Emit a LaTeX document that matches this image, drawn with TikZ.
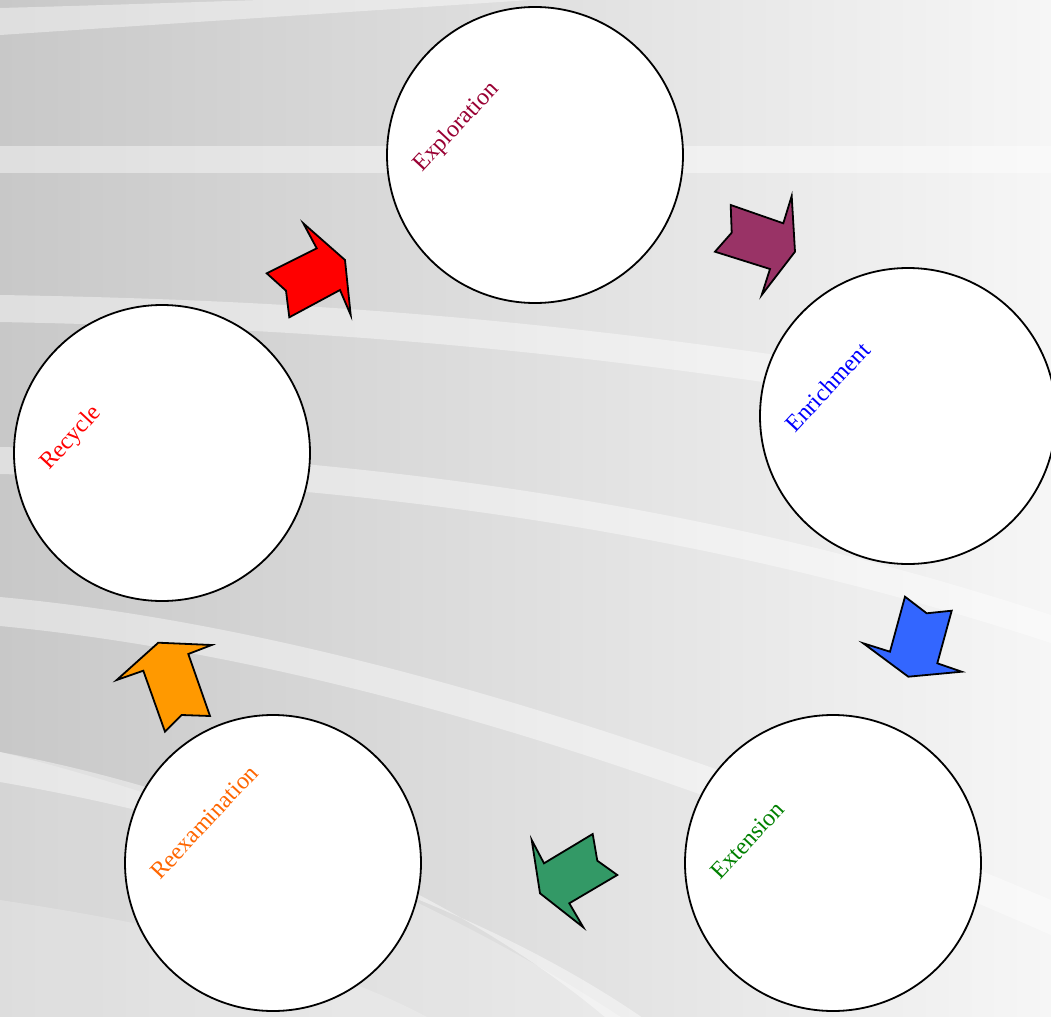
\documentclass[tikz,border=0pt]{standalone}
\usepackage{fontspec}
\setmainfont{Liberation Serif}
\usetikzlibrary{positioning}

\definecolor{bgleft}{HTML}{C8C8C8}
\definecolor{bgright}{HTML}{F6F6F6}
\definecolor{arrowred}{HTML}{FF0000}
\definecolor{arrowpurple}{HTML}{993366}
\definecolor{arrowblue}{HTML}{3366FF}
\definecolor{arrowgreen}{HTML}{339966}
\definecolor{arroworange}{HTML}{FF9900}
\definecolor{explotext}{HTML}{990033}
\definecolor{enrichtext}{HTML}{0000FF}
\definecolor{extentext}{HTML}{008000}
\definecolor{reexamtext}{HTML}{FF6600}
\definecolor{recyctext}{HTML}{FF0000}

\begin{document}
\begin{tikzpicture}[x=0.5pt,y=-0.5pt]

\tikzset{
    stage/.style={circle,draw,fill=white,line width=0.9pt,minimum size=148pt,inner sep=0pt},
    stagelabel/.style={rotate=47,anchor=base west,inner sep=0pt,font=\fontsize{12}{14}\selectfont},
    band/.style={fill=white,opacity=0.42},
    blockarrow/.style={draw,line width=0.9pt,line join=miter}
}
% variables
\def\labelx{-113}
\def\labely{18}

\useasboundingbox (0,0) rectangle (1051,1017);
\clip (0,0) rectangle (1051,1017);

% ----------- background ----------- %
\shade[left color=bgleft,right color=bgright] (0,0) rectangle (1051,1017);
\fill[white,opacity=0.25] (0,752) .. controls (200,800) and (450,900) .. (640,1030) -- (0,1030) -- cycle;
\fill[white,opacity=0.2] (0,900) .. controls (200,930) and (350,970) .. (450,1030) -- (0,1030) -- cycle;

% bands
\fill[band] (0,8) .. controls (150,4) and (250,0) .. (330,-2) -- (560,-2) .. controls (350,12) and (150,25) .. (0,35) -- cycle;
\fill[band] (0,146) rectangle (1051,173);
\fill[band] (0,295) .. controls (300,300) and (600,318) .. (1051,400)
    -- (1051,430) .. controls (600,346) and (300,328) .. (0,322) -- cycle;
\fill[band] (0,447) .. controls (350,455) and (700,500) .. (1051,615)
    -- (1051,643) .. controls (700,528) and (350,483) .. (0,474) -- cycle;
\fill[band] (0,597) .. controls (300,625) and (650,730) .. (1051,900)
    -- (1051,935) .. controls (650,758) and (300,655) .. (0,626) -- cycle;
\fill[band] (0,752) .. controls (200,790) and (450,880) .. (620,1030)
    -- (660,1030) .. controls (480,900) and (220,820) .. (0,782) -- cycle;

% ------------ MAIN DIAGRAM ---------%
% stages
\node[stage] (explo) at (535,155) {};
\node[stage] (enrich) at (908,416) {};
\node[stage] (exten) at (833,863) {};
\node[stage] (reexam) at (273,863) {};
\node[stage] (recyc) at (162,453) {};

% labels
\node[stagelabel,text=explotext] (explolbl) at ([shift={(\labelx,\labely)}]explo.center) {Exploration};
\node[stagelabel,text=enrichtext] (enrichlbl) at ([shift={(\labelx,\labely)}]enrich.center) {Enrichment};
\node[stagelabel,text=extentext] (extenlbl) at ([shift={(\labelx,\labely)}]exten.center) {Extension};
\node[stagelabel,text=reexamtext] (reexamlbl) at ([shift={(\labelx,\labely)}]reexam.center) {Reexamination};
\node[stagelabel,text=recyctext] (recyclbl) at ([shift={(\labelx,\labely)}]recyc.center) {Recycle};

% block arrows
\filldraw[blockarrow,fill=arrowred] (266.7,273.3) -- (316.7,248.3) -- (303.3,223.3) -- (345,260)
    -- (350.7,315) -- (340,290) -- (289.3,317.3) -- (286,290.7) -- cycle;
\filldraw[blockarrow,fill=arrowpurple] (730.7,205) -- (783.3,223.3) -- (791.7,196) -- (795,251.7)
    -- (761.7,295) -- (770,269) -- (715,251.7) -- (731.7,232.7) -- cycle;
\filldraw[blockarrow,fill=arrowblue] (905,596.7) -- (926.7,613.3) -- (951.7,610.7) -- (937.3,663.3)
    -- (961.7,671.7) -- (908.3,676.7) -- (863.3,643.3) -- (890,651.7) -- cycle;
\filldraw[blockarrow,fill=arrowgreen] (531.7,840) -- (544,863.3) -- (592.7,834) -- (597.3,860.7)
    -- (617.3,875) -- (569.3,903.3) -- (583.3,927.3) -- (540,893.3) -- cycle;
\filldraw[blockarrow,fill=arroworange] (116.7,680) -- (143.3,670.7) -- (165,731.7) -- (181.7,715)
    -- (210,716) -- (188.3,654) -- (211.7,645) -- (158.3,642.7) -- cycle;
% -------------- END MAIN DIAGRAM -------- %

\end{tikzpicture}
\end{document}
